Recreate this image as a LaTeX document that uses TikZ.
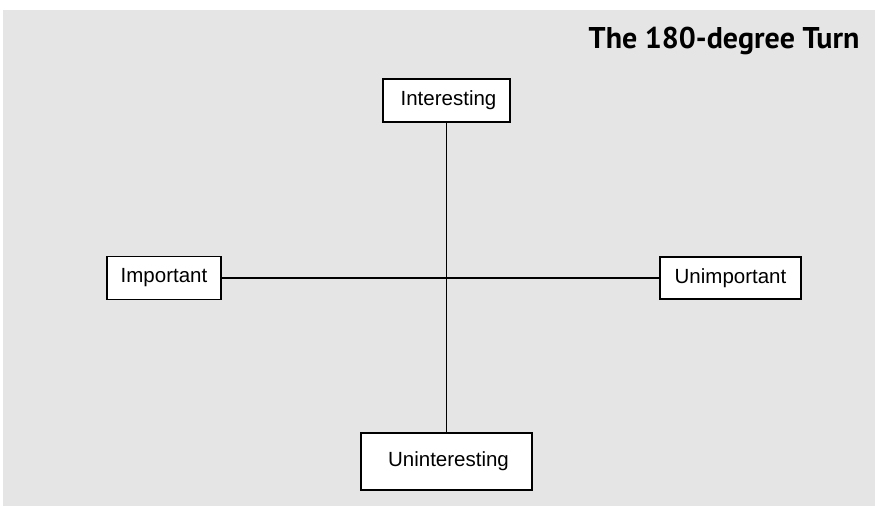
\documentclass[tikz,border=0pt]{standalone}
\usepackage{fontspec}
\setmainfont{Liberation Sans}
\newfontfamily\titlefont{PT Sans}
\definecolor{panelgray}{HTML}{E5E5E5}
\usetikzlibrary{positioning}
\begin{document}
\begin{tikzpicture} [x=1pt,y=-1pt,
    quadbox/.style={draw,fill=white,line width=1.3pt,inner sep=0pt,font=\fontsize{20.5}{24}\selectfont}]
    \useasboundingbox (0,0) rectangle (875,506);
    \fill[panelgray] (3,10) rectangle (875,506);

    \node[anchor=base east,font=\titlefont\bfseries\fontsize{30}{35}\selectfont] (title) at (863,48) {The 180-degree Turn};

    \node[quadbox,minimum width=127pt,minimum height=43pt] (interesting) at (446.5,100.5) {\hspace{4pt}Interesting};
    \node[quadbox,minimum width=171pt,minimum height=57pt] (uninteresting) at (446.5,461.5) {\hspace{4pt}Uninteresting};
    \node[quadbox,minimum width=114pt,minimum height=43pt] (important) at (164,278) {Important};
    \node[quadbox,minimum width=141pt,minimum height=42pt] (unimportant) at (730.5,278) {Unimportant};

    \draw[line width=1.3pt] (interesting.south) -- (uninteresting.north);
    \draw[line width=1.3pt] (important.east) -- (unimportant.west);
\end{tikzpicture}
\end{document}
